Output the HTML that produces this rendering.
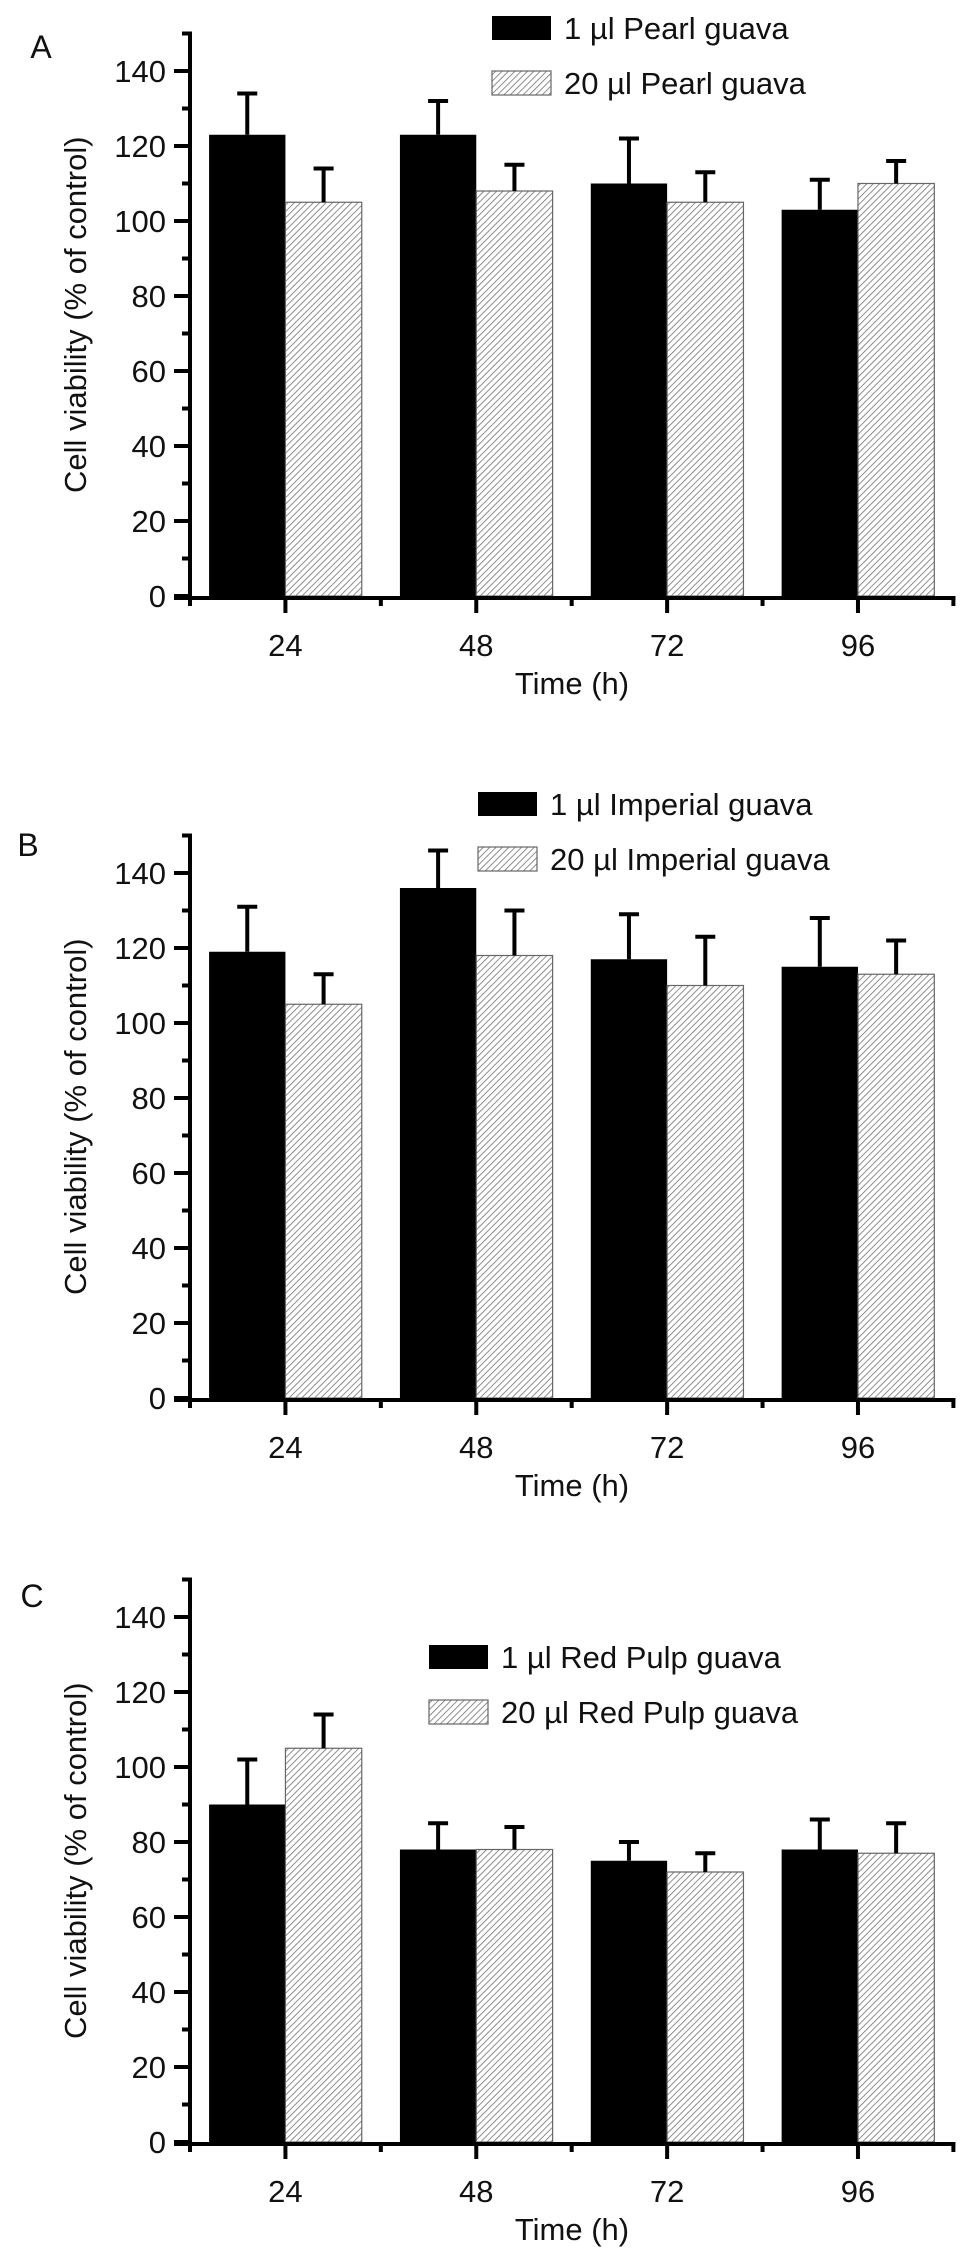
<!DOCTYPE html>
<html><head><meta charset="utf-8"><style>
html,body{margin:0;padding:0;background:#fff;}
svg{display:block;}
text{font-family:"Liberation Sans",Arial,sans-serif;fill:#111;}
</style></head>
<body>
<svg id="fig" width="969" height="2258" viewBox="0 0 969 2258" xmlns="http://www.w3.org/2000/svg">
<defs>
<pattern id="hatch" patternUnits="userSpaceOnUse" width="4.5" height="4.5" patternTransform="rotate(45)">
<rect width="4.5" height="4.5" fill="#fff"/>
<line x1="0" y1="0" x2="0" y2="4.5" stroke="#6a6a6a" stroke-width="1.5"/>
</pattern>
</defs>
</svg>
<script>
const categories = [24, 48, 72, 96];
const xTickLabels = ["24", "48", "72", "96"];
const yTickValues = [0, 20, 40, 60, 80, 100, 120, 140];
const panelLetters = ["A", "B", "C"];
const legend1 = ["1 \u00b5l Pearl guava", "1 \u00b5l Imperial guava", "1 \u00b5l Red Pulp guava"];
const legend20 = ["20 \u00b5l Pearl guava", "20 \u00b5l Imperial guava", "20 \u00b5l Red Pulp guava"];
const aLow = [123, 123, 110, 103];
const aLowErr = [11, 9, 12, 8];
const aHigh = [105, 108, 105, 110];
const aHighErr = [9, 7, 8, 6];
const bLow = [119, 136, 117, 115];
const bLowErr = [12, 10, 12, 13];
const bHigh = [105, 118, 110, 113];
const bHighErr = [8, 12, 13, 9];
const cLow = [90, 78, 75, 78];
const cLowErr = [12, 7, 5, 8];
const cHigh = [105, 78, 72, 77];
const cHighErr = [9, 6, 5, 8];

const NS = "http://www.w3.org/2000/svg";
const svg = document.getElementById("fig");
function mk(tag, attrs, parent) {
  const e = document.createElementNS(NS, tag);
  for (const k in attrs) e.setAttribute(k, attrs[k]);
  (parent || svg).appendChild(e);
  return e;
}
const X0 = 190, UX = 7.952;
function xs(v) { return X0 + (v - 12) * UX; }
const UY = 3.75;
const BARW = 9.6 * UX;

const panels = [
  {zero: 596, low: aLow, lowE: aLowErr, high: aHigh, highE: aHighErr, letter: [41, 58], leg: [492, 16]},
  {zero: 1398, low: bLow, lowE: bLowErr, high: bHigh, highE: bHighErr, letter: [28, 856], leg: [478, 792]},
  {zero: 2142, low: cLow, lowE: cLowErr, high: cHigh, highE: cHighErr, letter: [32, 1607], leg: [429, 1645]}
];

panels.forEach((p, pi) => {
  const g = mk("g", {});
  
  
  const ys = v => p.zero - v * UY;

  const lt = mk("text", {x: p.letter[0], y: p.letter[1], "font-size": 32, "text-anchor": "middle"}, g);
  lt.textContent = panelLetters[pi];
  
  

  categories.forEach((c, i) => {
    const x = xs(c);
    const r1 = mk("rect", {x: x - BARW, y: ys(p.low[i]), width: BARW, height: p.low[i] * UY, fill: "#000"}, g);
    
    
    const r2 = mk("rect", {x: x, y: ys(p.high[i]), width: BARW, height: p.high[i] * UY, fill: "url(#hatch)", stroke: "#666", "stroke-width": 1.2}, g);
    
    
    [[x - BARW / 2, p.low[i], p.lowE[i], '1ul'], [x + BARW / 2, p.high[i], p.highE[i], '20ul']].forEach(e => {
      const eb = mk("path", {d: `M${e[0]},${ys(e[1])}V${ys(e[1] + e[2])}M${e[0] - 10},${ys(e[1] + e[2])}H${e[0] + 10}`, stroke: "#000", "stroke-width": 4, fill: "none"}, g);
      
      
    });
  });

  const ya = mk("path", {d: `M${X0},${ys(150)}V${p.zero + 2}M${X0 - 2},${ys(150)}H${X0 + 2}`, stroke: "#000", "stroke-width": 4, fill: "none"}, g);
  
  
  for (let v = 10; v <= 150; v += 20) {
    mk("line", {x1: X0 - 8, x2: X0, y1: ys(v), y2: ys(v), stroke: "#000", "stroke-width": 4}, g);
  }
  yTickValues.forEach(v => {
    mk("line", {x1: X0 - 16, x2: X0, y1: ys(v), y2: ys(v), stroke: "#000", "stroke-width": 4}, g);
    const t = mk("text", {x: X0 - 24, y: ys(v) + 11, "font-size": 31, "text-anchor": "end"}, g);
    t.textContent = v;
    
    
  });
  const yt = mk("text", {x: 0, y: 0, "font-size": 31, "text-anchor": "middle", transform: `translate(86,${ys(75)}) rotate(-90)`}, g);
  yt.textContent = "Cell viability (% of control)";
  
  

  const xa = mk("line", {x1: X0 - 16, x2: xs(108) + 2, y1: p.zero + 2, y2: p.zero + 2, stroke: "#000", "stroke-width": 4}, g);
  
  
  [12, 36, 60, 84, 108].forEach(v => mk("line", {x1: xs(v), x2: xs(v), y1: p.zero, y2: p.zero + 10, stroke: "#000", "stroke-width": 4}, g));
  categories.forEach((c, i) => {
    mk("line", {x1: xs(c), x2: xs(c), y1: p.zero, y2: p.zero + 17, stroke: "#000", "stroke-width": 4}, g);
    const t = mk("text", {x: xs(c), y: p.zero + 60, "font-size": 31, "text-anchor": "middle"}, g);
    t.textContent = xTickLabels[i];
    
    
  });
  const xt = mk("text", {x: 572, y: p.zero + 98, "font-size": 31, "text-anchor": "middle"}, g);
  xt.textContent = "Time (h)";
  
  

  const lx = p.leg[0], ly = p.leg[1];
  const s1 = mk("rect", {x: lx, y: ly, width: 59, height: 24, fill: "#000"}, g);
  
  
  const l1 = mk("text", {x: lx + 72, y: ly + 23, "font-size": 31}, g);
  l1.textContent = legend1[pi];
  
  
  const s2 = mk("rect", {x: lx, y: ly + 55, width: 59, height: 24, fill: "url(#hatch)", stroke: "#666", "stroke-width": 1.2}, g);
  
  
  const l2 = mk("text", {x: lx + 72, y: ly + 78, "font-size": 31}, g);
  l2.textContent = legend20[pi];
  
  
});
</script>
</body></html>
